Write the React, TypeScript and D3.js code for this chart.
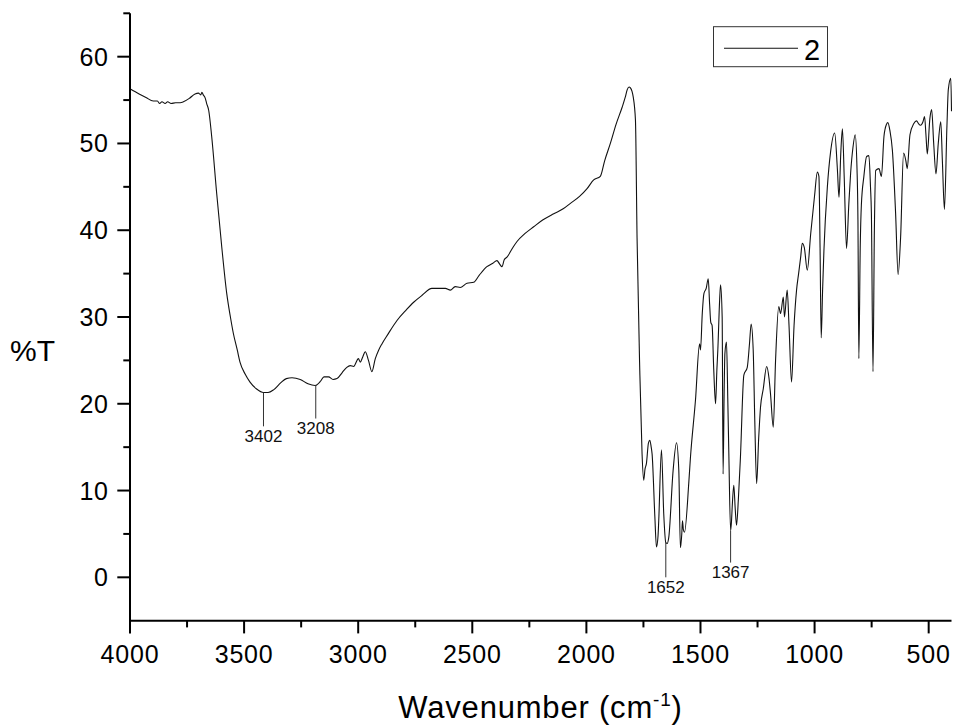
import React from "react";
import * as d3 from "d3";

// Spectrum data: wavenumber (cm-1) and %T
const wavenumbers = [
  4000, 3960, 3930, 3898, 3880, 3870, 3860, 3846, 3835, 3820, 3800, 3780, 3766, 3740, 3715, 3700, 3690, 3685, 3679, 3670,
  3664, 3655, 3642, 3620, 3598, 3576, 3560, 3547, 3530, 3518, 3495, 3474, 3445, 3415, 3395, 3371, 3340, 3315, 3290, 3254,
  3220, 3189, 3165, 3150, 3130, 3110, 3093, 3070, 3050, 3035, 3020, 2999, 2991, 2980, 2969, 2955, 2940, 2925, 2910, 2896,
  2870, 2830, 2790, 2757, 2720, 2677, 2618, 2596, 2575, 2553, 2523, 2494, 2470, 2436, 2410, 2392, 2380, 2370, 2360, 2348,
  2320, 2304, 2270, 2231, 2190, 2143, 2100, 2070, 2030, 1997, 1968, 1939, 1920, 1895, 1870, 1843, 1830, 1821, 1813, 1807,
  1800, 1795, 1785, 1778, 1766, 1756, 1749, 1743, 1737, 1728, 1722, 1716, 1712, 1700, 1693, 1686, 1683, 1671, 1661, 1652,
  1646, 1639, 1620, 1605, 1595, 1588, 1582, 1579, 1575, 1570, 1551, 1544, 1522, 1504, 1500, 1492, 1485, 1475, 1466, 1460,
  1455, 1449, 1442, 1434, 1428, 1424, 1416, 1412, 1405, 1401, 1396, 1393, 1386, 1380, 1376, 1368, 1364, 1361, 1354, 1348,
  1342, 1334, 1325, 1310, 1295, 1285, 1278, 1269, 1262, 1254, 1245, 1237, 1225, 1210, 1200, 1193, 1181, 1171, 1157, 1149,
  1137, 1132, 1120, 1112, 1101, 1090, 1079, 1070, 1061, 1054, 1045, 1032, 1017, 1000, 988, 981, 976, 971, 965, 959,
  944, 930, 912, 900, 893, 885, 878, 870, 860, 850, 842, 832, 822, 814, 810, 806, 800, 795, 784, 772,
  762, 755, 751, 744, 738, 732, 718, 707, 696, 685, 679, 670, 659, 645, 634, 623, 610, 600, 594, 582,
  565, 553, 545, 535, 525, 518, 512, 506, 495, 487, 478, 468, 458, 447, 440, 431, 420, 414, 403, 400,
];

const transmittance = [
  56.3, 55.7, 55.3, 54.9, 54.9, 54.6, 54.8, 54.6, 54.8, 54.6, 54.7, 54.7, 54.8, 55.2, 55.7, 55.8, 55.6, 55.9, 55.6, 55.2,
  54.6, 53.8, 50.8, 44.2, 38.1, 32.7, 30.0, 28.1, 26.2, 24.8, 23.4, 22.5, 21.7, 21.3, 21.3, 21.6, 22.4, 22.9, 23.0, 22.8,
  22.3, 22.1, 22.6, 23.1, 23.1, 22.8, 22.9, 23.6, 24.2, 24.4, 24.3, 25.2, 24.8, 25.4, 26.0, 25.0, 23.7, 25.2, 26.2, 26.9,
  28.0, 29.6, 30.8, 31.7, 32.5, 33.3, 33.3, 33.1, 33.5, 33.4, 33.9, 34.0, 34.8, 35.8, 36.2, 36.5, 36.1, 35.8, 36.6, 36.9,
  38.1, 38.7, 39.6, 40.4, 41.2, 41.9, 42.5, 43.1, 43.9, 44.8, 45.8, 46.2, 48.0, 50.0, 52.2, 54.2, 55.3, 56.2, 56.5, 56.4,
  56.0, 55.4, 52.7, 39.2, 23.8, 14.2, 11.2, 12.5, 13.1, 15.5, 15.8, 15.0, 14.2, 7.0, 3.5, 4.8, 6.5, 14.7, 7.3, 4.0,
  3.9, 4.6, 12.3, 15.5, 12.3, 3.4, 5.0, 6.5, 5.5, 5.2, 11.0, 13.8, 20.4, 26.9, 26.2, 30.5, 32.7, 33.3, 34.4, 31.5,
  29.4, 29.0, 24.0, 20.0, 24.0, 26.2, 32.0, 33.7, 30.0, 11.9, 22.0, 25.8, 27.1, 20.0, 14.6, 5.4, 6.5, 8.1, 10.6, 8.0,
  6.0, 9.0, 13.8, 23.3, 24.2, 27.0, 29.2, 26.2, 18.0, 10.8, 16.0, 19.6, 21.7, 24.3, 23.0, 21.1, 17.3, 25.0, 31.2, 30.4,
  32.3, 30.0, 33.1, 29.0, 22.5, 29.0, 33.1, 35.0, 36.9, 38.5, 38.0, 35.4, 39.6, 44.0, 46.7, 46.2, 38.0, 27.6, 33.0, 37.7,
  45.0, 49.0, 51.2, 47.0, 43.8, 49.0, 51.7, 46.0, 37.9, 43.0, 46.6, 49.5, 51.0, 47.0, 41.2, 25.2, 38.0, 42.9, 46.2, 48.5,
  48.6, 45.0, 41.9, 23.7, 40.0, 46.9, 47.1, 46.2, 50.8, 52.2, 52.4, 51.5, 49.2, 42.0, 34.9, 39.2, 48.9, 48.0, 47.1, 51.0,
  52.3, 52.6, 52.3, 52.1, 52.5, 53.1, 51.0, 48.8, 52.8, 53.9, 50.0, 46.5, 50.0, 52.5, 48.0, 42.4, 52.0, 56.2, 57.5, 53.7,
];

const xMajorTicks = [4000, 3500, 3000, 2500, 2000, 1500, 1000, 500];
const xMinorTicks = [3750, 3250, 2750, 2250, 1750, 1250, 750];
const yMajorTicks = [0, 10, 20, 30, 40, 50, 60];
const yMinorTicks = [5, 15, 25, 35, 45, 55, 65];

// Peak annotations: position on the x axis, label, and %T where the marker line ends
const peakPositions = [3415, 3186, 1652, 1368];
const peakLabels = ["3402", "3208", "1652", "1367"];
const peakLineEnds = [17.4, 18.3, 0.0, 1.7];

const seriesName = "2";
const xTitle = "Wavenumber (cm";
const xTitleSup = "-1";
const yTitle = "%T";

const FONT = "'Liberation Sans', Arial, Helvetica, sans-serif";

export default function App() {
  const W = 955;
  const H = 727;
  const x = d3.scaleLinear().domain([4000, 400]).range([130, 951.5]);
  const y = d3.scaleLinear().domain([-5, 65]).range([620.7, 13.3]);

  const data = wavenumbers.map((w, i) => ({ w, t: transmittance[i] }));
  const line = d3
    .line<{ w: number; t: number }>()
    .x((d) => x(d.w))
    .y((d) => y(d.t))
    .curve(d3.curveMonotoneX);

  // interpolate %T at a given wavenumber (data is descending in w)
  const interp = (w: number) => {
    for (let i = 0; i < data.length - 1; i++) {
      const a = data[i];
      const b = data[i + 1];
      if (w <= a.w && w >= b.w) {
        const f = (a.w - w) / (a.w - b.w);
        return a.t + f * (b.t - a.t);
      }
    }
    return data[data.length - 1].t;
  };

  const x0 = x(4000);
  const x1 = x(400);
  const yBase = y(-5);
  const yTop = y(65);

  return (
    <svg
      width={W}
      height={H}
      style={{ position: "absolute", left: 0, top: 0, background: "#fff" }}
      fontFamily={FONT}
    >
      <rect x={0} y={0} width={W} height={H} fill="#fff" />
      {/* spectrum */}
      <path d={line(data) || ""} fill="none" stroke="#111" strokeWidth={1.1} strokeLinejoin="round" />

      {/* peak annotations */}
      {peakPositions.map((p, i) => {
        const top = y(interp(p));
        const bot = y(peakLineEnds[i]);
        return (
          <g key={"pk" + i}>
            <line x1={x(p)} x2={x(p)} y1={top} y2={bot} stroke="#333" strokeWidth={1} />
            <text x={x(p)} y={bot + 15.5} fontSize={17} textAnchor="middle" fill="#111">
              {peakLabels[i]}
            </text>
          </g>
        );
      })}

      {/* axes */}
      <line x1={x0} x2={x0} y1={yTop} y2={yBase + 1} stroke="#000" strokeWidth={2} />
      <line x1={x0 - 1} x2={x1} y1={yBase} y2={yBase} stroke="#000" strokeWidth={2} />

      {yMajorTicks.map((t) => (
        <g key={"ym" + t}>
          <line x1={x0 - 12.7} x2={x0} y1={y(t)} y2={y(t)} stroke="#000" strokeWidth={2} />
          <text x={108.5} y={y(t)} dy="0.36em" fontSize={25} letterSpacing={0.6} textAnchor="end" fill="#000">
            {t}
          </text>
        </g>
      ))}
      {yMinorTicks.map((t) => (
        <line key={"yn" + t} x1={x0 - 6.7} x2={x0} y1={y(t)} y2={y(t)} stroke="#000" strokeWidth={2} />
      ))}

      {xMajorTicks.map((t) => (
        <g key={"xm" + t}>
          <line x1={x(t)} x2={x(t)} y1={yBase} y2={yBase + 12.7} stroke="#000" strokeWidth={2} />
          <text x={x(t)} y={662.7} fontSize={25} letterSpacing={0.8} textAnchor="middle" fill="#000">
            {t}
          </text>
        </g>
      ))}
      {xMinorTicks.map((t) => (
        <line key={"xn" + t} x1={x(t)} x2={x(t)} y1={yBase} y2={yBase + 6.7} stroke="#000" strokeWidth={2} />
      ))}

      {/* axis titles */}
      <text x={540.5} y={718} fontSize={31} letterSpacing={0.8} textAnchor="middle" fill="#000">
        {xTitle}
        <tspan fontSize={19} dy={-12}>
          {xTitleSup}
        </tspan>
        <tspan dy={12}>)</tspan>
      </text>
      <text x={10} y={361} fontSize={30} fill="#000">
        {yTitle}
      </text>

      {/* legend */}
      <rect x={713.5} y={26.7} width={114} height={40} fill="#fff" stroke="#333" strokeWidth={1} />
      <line x1={724} x2={798} y1={48.3} y2={48.3} stroke="#111" strokeWidth={1.1} />
      <text x={804} y={60} fontSize={29} fill="#000">
        {seriesName}
      </text>
    </svg>
  );
}
